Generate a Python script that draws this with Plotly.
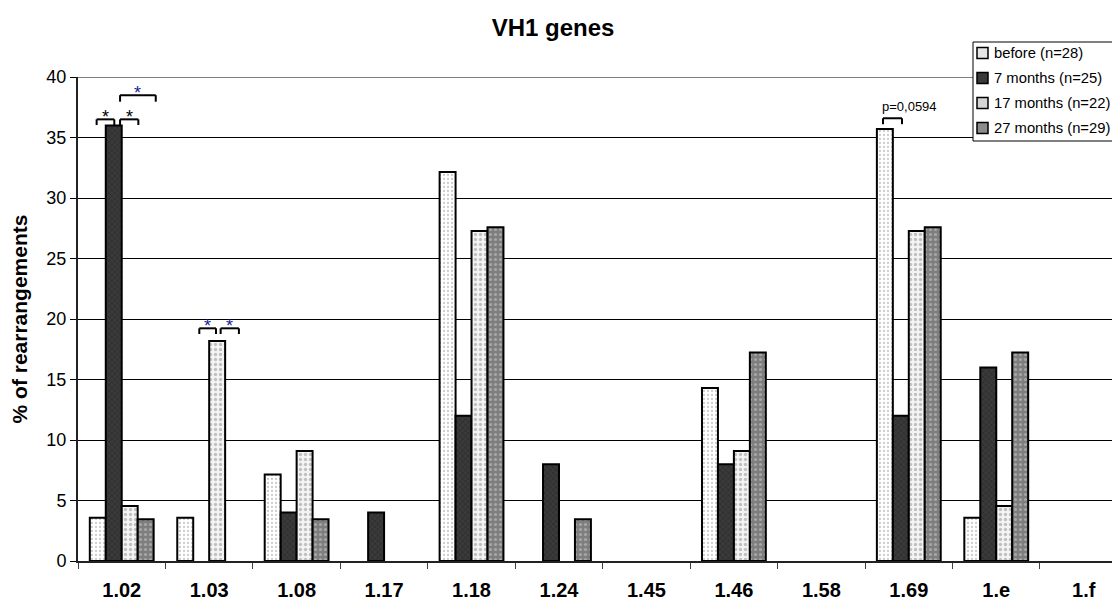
import plotly.graph_objects as go

# ---- data ----
genes = ["1.02", "1.03", "1.08", "1.17", "1.18", "1.24", "1.45", "1.46", "1.58", "1.69", "1.e", "1.f"]
before = [3.57, 3.57, 7.14, 0, 32.14, 0, 0, 14.29, 0, 35.71, 3.57, 0]
months7 = [36.0, 0, 4.0, 4.0, 12.0, 8.0, 0, 8.0, 0, 12.0, 16.0, 0]
months17 = [4.55, 18.18, 9.09, 0, 27.27, 0, 0, 9.09, 0, 27.27, 4.55, 0]
months27 = [3.45, 0, 3.45, 0, 27.59, 3.45, 0, 17.24, 0, 27.59, 17.24, 0]
series_names = ["before (n=28)", "7 months (n=25)", "17 months (n=22)", "27 months (n=29)"]
series_values = [before, months7, months17, months27]

# significance brackets: (category, left offset, right offset, top value, leg value, label, label offset, colour)
brackets = [
    ("1.02", -0.287, -0.085, 36.5, 36.03, "*", 0.0, "black"),
    ("1.02", -0.019, 0.190, 36.5, 36.03, "*", 0.0, "black"),
    ("1.02", -0.019, 0.389, 38.5, 37.96, "*", 0.0, "#1c1c96"),
    ("1.03", -0.113, 0.078, 19.23, 18.76, "*", 0.0, "#1c1c96"),
    ("1.03", 0.131, 0.340, 19.23, 18.76, "*", 0.0, "#1c1c96"),
    ("1.69", -0.295, -0.078, 36.59, 36.1, "p=0,0594", 0.2, "black"),
]

# ---- styles ----
FONT = "Liberation Sans, Arial, sans-serif"
patterns = [
    dict(shape=".", bgcolor="#ffffff", fgcolor="#9a9a9a", size=4, solidity=0.25),
    dict(shape="x", bgcolor="#3a3a3a", fgcolor="#1a1a1a", size=4, solidity=0.3),
    dict(shape=".", bgcolor="#f4f4f4", fgcolor="#8c8c8c", size=5, solidity=0.35),
    dict(shape=".", bgcolor="#7e7e7e", fgcolor="#d0d0d0", size=5, solidity=0.3),
]
legend_fill = ["#e6e6e6", "#3a3a3a", "#d4d4d4", "#8c8c8c"]

# page geometry (the html body adds an 8px offset)
OFF = 8
FIG_W, FIG_H = 1120 - OFF, 601 - OFF
L, T, PW, PH = 78, 77, 1042, 484          # plot area in page pixels


def px(x):
    return (x - L) / PW


def py(y):
    return (T + PH - y) / PH


fig = go.Figure()
for name, vals, pat in zip(series_names, series_values, patterns):
    fig.add_trace(go.Bar(
        x=genes, y=[v if v else None for v in vals], name=name, showlegend=False,
        marker=dict(color=pat["bgcolor"], pattern=pat, line=dict(color="black", width=2)),
    ))

shapes = []
annotations = []
for cat, o0, o1, ytop, yleg, label, loff, col in brackets:
    c = genes.index(cat)
    x0, x1 = c + o0, c + o1
    for (a, b, cc, d) in [(x0, yleg, x0, ytop), (x0, ytop, x1, ytop), (x1, ytop, x1, yleg)]:
        shapes.append(dict(type="line", xref="x", yref="y", x0=a, y0=b, x1=cc, y1=d,
                           line=dict(color="black", width=2)))
    if label == "*":
        annotations.append(dict(x=(x0 + x1) / 2, y=ytop, xref="x", yref="y", text="*",
                                showarrow=False, yanchor="middle", yshift=2,
                                font=dict(family=FONT, size=18, color=col)))
    else:
        annotations.append(dict(x=(x0 + x1) / 2 + loff, y=ytop, xref="x", yref="y", text=label,
                                showarrow=False, yanchor="bottom", yshift=2,
                                font=dict(family=FONT, size=13, color=col)))

# plot area top border (grey)
shapes.append(dict(type="line", xref="paper", yref="y", x0=0, x1=1, y0=40, y1=40,
                   line=dict(color="#808080", width=2), layer="above"))

# legend box
shapes.append(dict(type="rect", xref="paper", yref="paper", x0=px(973), x1=px(1130),
                   y0=py(141), y1=py(42), fillcolor="white",
                   line=dict(color="black", width=1), layer="above"))
for i, name in enumerate(series_names):
    cy = 53 + 25 * i
    shapes.append(dict(type="rect", xref="paper", yref="paper", x0=px(977), x1=px(988),
                       y0=py(cy + 5.5), y1=py(cy - 5.5), fillcolor=legend_fill[i],
                       line=dict(color="black", width=1.5), layer="above"))
    annotations.append(dict(x=px(992), y=py(cy), xref="paper", yref="paper", text=name,
                            showarrow=False, xanchor="left", yanchor="middle",
                            font=dict(family=FONT, size=14.8, color="black")))

fig.update_layout(
    width=FIG_W, height=FIG_H,
    margin=dict(l=L - OFF, r=0, t=T - OFF, b=FIG_H - (T - OFF) - PH, pad=0),
    paper_bgcolor="white", plot_bgcolor="white",
    barmode="group", bargap=0.27, bargroupgap=0,
    title=dict(text="VH1 genes", x=(553 - OFF) / FIG_W, xref="container", xanchor="center",
               y=1 - (28 - OFF) / FIG_H, yref="container", yanchor="middle",
               font=dict(family=FONT, size=24, color="black", weight="bold")),
    xaxis=dict(type="category", range=[-0.5, 11.415], showline=True, linecolor="#222222",
               linewidth=2, ticks="outside", tickson="boundaries", ticklen=6,
               tickcolor="#404040", showgrid=False, ticklabelstandoff=10,
               tickfont=dict(family=FONT, size=20, color="black", weight="bold")),
    yaxis=dict(range=[0, 40], dtick=5, showline=True, linecolor="#222222", linewidth=2,
               ticks="outside", ticklen=6, tickcolor="black", showgrid=True,
               gridcolor="black", gridwidth=1, zeroline=False,
               tickfont=dict(family=FONT, size=18, color="black"),
               title=dict(text="% of rearrangements", standoff=18,
                          font=dict(family=FONT, size=21, color="black", weight="bold"))),
    shapes=shapes, annotations=annotations,
)

fig.write_html("out.html")
